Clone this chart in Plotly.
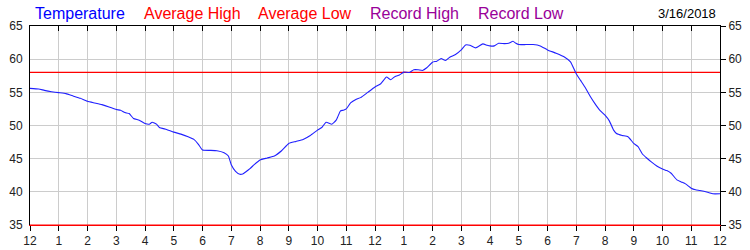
import plotly.graph_objects as go

# ---- data ----
hours = [0, 0.3, 0.5, 0.75, 1.0, 1.25, 1.5, 1.75, 2.0, 2.25, 2.5, 2.75, 3.0, 3.15, 3.3, 3.45, 3.6, 3.8, 4.0, 4.15, 4.25, 4.4,
         4.5, 4.75, 5.0, 5.25, 5.5, 5.7, 5.85, 6.0, 6.25, 6.5, 6.75, 6.9, 7.0, 7.15, 7.3, 7.4, 7.5, 7.65, 7.8,
         8.0, 8.25, 8.5, 8.75, 9.0, 9.25, 9.5, 9.75, 10.0, 10.15, 10.3, 10.5, 10.65, 10.8, 10.9, 11.0, 11.15, 11.35, 11.5,
         11.75, 12.0, 12.2, 12.4, 12.55, 12.7, 12.85, 13.0, 13.2, 13.35, 13.5, 13.65, 13.8, 14.0, 14.15, 14.3, 14.45, 14.6,
         14.8, 15.0, 15.15, 15.3, 15.5, 15.75, 15.9, 16.0, 16.15, 16.3, 16.5, 16.65, 16.8, 16.9, 17.0, 17.25, 17.5, 17.75,
         18.0, 18.3, 18.6, 18.8, 19.0, 19.15, 19.3, 19.5, 19.65, 19.8, 20.0, 20.15, 20.3, 20.4, 20.6, 20.8, 21.0, 21.15,
         21.3, 21.45, 21.6, 21.8, 22.0, 22.15, 22.3, 22.5, 22.65, 22.8, 23.0, 23.15, 23.3, 23.6, 23.75, 24.0]
temperature = [55.6, 55.5, 55.3, 55.1, 54.95, 54.8, 54.45, 54.1, 53.65, 53.4, 53.15, 52.8, 52.4, 52.3, 51.95, 51.8, 51.05, 50.8, 50.3, 50.2, 50.5, 50.2,
               49.7, 49.4, 49.0, 48.7, 48.3, 47.9, 47.2, 46.3, 46.25, 46.2, 45.9, 45.4, 44.1, 43.1, 42.65, 42.7, 43.0, 43.5, 44.1,
               44.8, 45.1, 45.4, 46.2, 47.3, 47.6, 47.9, 48.5, 49.3, 49.7, 50.5, 50.2, 50.8, 52.2, 52.3, 52.5, 53.4, 53.95, 54.2,
               55.0, 55.8, 56.3, 57.3, 56.9, 57.4, 57.6, 58.05, 58.0, 58.4, 58.4, 58.3, 58.7, 59.55, 59.7, 60.1, 59.8, 60.3,
               60.7, 61.4, 62.15, 62.1, 61.7, 62.3, 62.1, 62.0, 62.0, 62.4, 62.35, 62.4, 62.7, 62.4, 62.2, 62.2, 62.2, 62.0,
               61.4, 60.9, 60.3, 59.6, 57.8, 56.8, 55.8, 54.3, 53.3, 52.4, 51.55, 50.7, 49.3, 48.8, 48.5, 48.3, 47.3, 46.8,
               45.7, 45.1, 44.55, 43.9, 43.45, 43.2, 42.8, 41.8, 41.5, 41.2, 40.55, 40.3, 40.2, 39.9, 39.7, 39.7]
average_high = 58
average_low = 35
tick_hours = list(range(0, 25))
tick_labels = ["12", "1", "2", "3", "4", "5", "6", "7", "8", "9", "10", "11",
               "12", "1", "2", "3", "4", "5", "6", "7", "8", "9", "10", "11", "12"]
y_ticks = [35, 40, 45, 50, 55, 60, 65]
date_label = "3/16/2018"
legend_items = [("Temperature", "#0000ff"), ("Average High", "#ff0000"), ("Average Low", "#ff0000"),
                ("Record High", "#990099"), ("Record Low", "#990099")]
legend_left_px = [33, 142, 256, 368, 476]

FONT = "Liberation Sans, Arial, sans-serif"
W, H = 750, 250
ML, MR, MT, MB = 30, 30, 26, 25

fig = go.Figure()
fig.add_trace(go.Scatter(x=[0, 24], y=[average_high] * 2, mode="lines",
                         line=dict(color="#ff0000", width=1.2), hoverinfo="skip"))
fig.add_trace(go.Scatter(x=[0, 24], y=[average_low] * 2, mode="lines",
                         line=dict(color="#ff0000", width=1), hoverinfo="skip"))
fig.add_trace(go.Scatter(x=hours, y=temperature, mode="lines",
                         line=dict(color="#2020ff", width=1.1, shape="spline", smoothing=0.4)))
# right axis dummy trace
fig.add_trace(go.Scatter(x=[0], y=[50], yaxis="y2", xaxis="x", mode="markers",
                         marker=dict(opacity=0), hoverinfo="skip"))
# top axis dummy trace
fig.add_trace(go.Scatter(x=[0], y=[50], xaxis="x2", mode="markers",
                         marker=dict(opacity=0), hoverinfo="skip"))

annots = []
for (txt, col), lx in zip(legend_items, legend_left_px):
    annots.append(dict(text=txt, x=(lx - ML) / (W - ML - MR), y=1 + 13 / (H - MT - MB),
                       xref="paper", yref="paper", xanchor="left", yanchor="middle",
                       showarrow=False, font=dict(size=16, color=col, family=FONT)))
annots.append(dict(text=date_label, x=(718 - ML) / (W - ML - MR), y=1 + 13 / (H - MT - MB),
                   xref="paper", yref="paper", xanchor="right", yanchor="middle",
                   showarrow=False, font=dict(size=13, color="#000000", family=FONT)))

axis_common = dict(range=[35, 65], tickvals=y_ticks, showgrid=True, gridcolor="#cccccc",
                   gridwidth=1, zeroline=False, automargin=False,
                   tickfont=dict(size=12, color="#222222", family=FONT))
fig.update_layout(
    width=W, height=H, margin=dict(l=ML, r=MR, t=MT, b=MB, autoexpand=False),
    paper_bgcolor="white", plot_bgcolor="white", showlegend=False,
    font=dict(family=FONT),
    xaxis=dict(range=[0, 24], tickvals=tick_hours, ticktext=tick_labels, showgrid=True,
               gridcolor="#cccccc", zeroline=False, ticks="outside", ticklen=5, tickcolor="#000000",
               showline=True, linecolor="#ff0000", linewidth=1, automargin=False,
               tickfont=dict(size=12, color="#222222", family=FONT)),
    xaxis2=dict(range=[0, 24], tickvals=tick_hours, overlaying="x", side="top", showgrid=False,
                zeroline=False, ticks="inside", ticklen=5, tickcolor="#000000", showticklabels=False,
                showline=True, linecolor="#000000", linewidth=1, automargin=False),
    yaxis=dict(**axis_common, ticks="", showline=True, linecolor="#000000", linewidth=1,
               ticklabelstandoff=4),
    yaxis2=dict(**{k: v for k, v in axis_common.items() if k != "showgrid"}, showgrid=False,
                overlaying="y", side="right", ticks="outside", ticklen=5, tickcolor="#000000",
                showline=True, linecolor="#000000", linewidth=1),
    annotations=annots,
)
fig.write_html("out.html")
